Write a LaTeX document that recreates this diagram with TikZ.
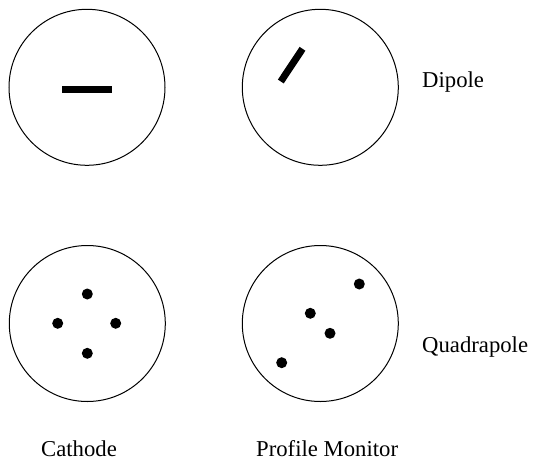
\documentclass[tikz,border=0pt]{standalone}
\usepackage{fontspec}
\setmainfont{Liberation Serif}
\begin{document}
\begin{tikzpicture}[x=1pt,y=-1pt,
  ring/.style={draw=black,line width=1pt,circle,minimum size=156pt,inner sep=0pt},
  dot/.style={fill=black,circle,minimum size=11pt,inner sep=0pt},
  bar/.style={line width=6.5pt,line cap=butt},
  lbl/.style={anchor=base west,inner sep=0pt,font=\fontsize{22.7}{27}\selectfont}]
\useasboundingbox (0,0) rectangle (535,460);
\node[ring] (c1) at (87,87.3) {};
\node[ring] (c2) at (320.3,87.3) {};
\node[ring] (c3) at (87.3,323.5) {};
\node[ring] (c4) at (320.3,323.5) {};
% dipole bars
\coordinate (b1a) at (62,89.5);
\coordinate (b1b) at (111.5,89.5);
\draw[bar] (b1a) -- (b1b);
\coordinate (b2a) at (280.8,81.5);
\coordinate (b2b) at (302.5,48.8);
\draw[bar,line width=7pt] (b2a) -- (b2b);
% quadrupole dots
\node[dot] (d1) at (87.3,294) {};
\node[dot] (d2) at (57.7,323.3) {};
\node[dot] (d3) at (115.7,323.3) {};
\node[dot] (d4) at (87.3,353.3) {};
\node[dot] (e1) at (359.3,284) {};
\node[dot] (e2) at (310.3,313.3) {};
\node[dot] (e3) at (330,333.3) {};
\node[dot] (e4) at (281.7,362.7) {};
% labels
\node[lbl] (dip) at (422,87.5) {Dipole};
\node[lbl] (quad) at (422,352) {Quadrapole};
\node[lbl] (cat) at (41,456.5) {Cathode};
\node[lbl] (pm) at (256,456.5) {Profile Monitor};
\end{tikzpicture}
\end{document}
